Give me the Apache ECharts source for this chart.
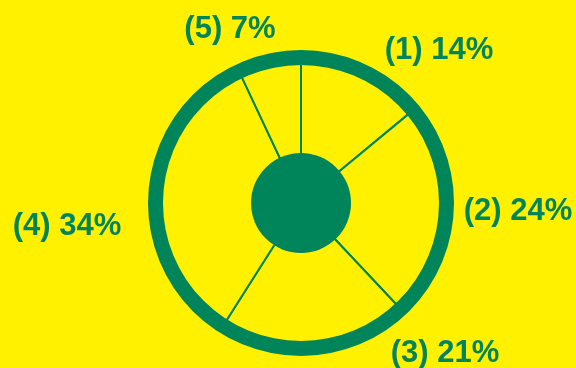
<!DOCTYPE html>
<html lang="en">

<head>
    <meta charset="UTF-8">
    <title>wheel pie</title>
    <style media="screen">
        html, body {
            margin: 0;
            padding: 0;
            background: #fff100;
        }

        #chart {
            width: 576px;
            height: 368px;
        }
    </style>
</head>

<body>
    <div id="chart"></div>

    <script src="https://cdn.jsdelivr.net/npm/echarts@6/dist/echarts.min.js"></script>
    <script>
        var categories = ['1', '2', '3', '4', '5'];
        var shares = [14, 24, 21, 34, 7];

        var labelPos = [[439, 50], [518, 211], [445, 353], [67, 226], [230, 29]]; // label centres
        var green = '#00845a';
        var yellow = '#fff100';

        (function initChart() {
            var myChart = echarts.init(document.getElementById('chart'));
            var center = [301, 203];

            var options = {
                backgroundColor: yellow,
                animation: false,
                series: [{
                        name: 'shares',
                        type: 'pie',
                        center: center,
                        radius: [0, 141],
                        startAngle: 90,
                        clockwise: true,
                        avoidLabelOverlap: false,
                        itemStyle: {
                            color: yellow,
                            borderColor: green,
                            borderWidth: 2
                        },
                        label: {
                            show: true,
                            position: 'outside',
                            formatter: '({b}) {c}%',
                            color: green,
                            fontFamily: 'Liberation Sans',
                            fontWeight: 'bold',
                            fontSize: 31
                        },
                        labelLine: {
                            show: false
                        },
                        labelLayout: function(params) {
                            var p = labelPos[params.dataIndex];
                            return {
                                x: p[0],
                                y: p[1],
                                align: 'center',
                                verticalAlign: 'middle'
                            };
                        },
                        emphasis: {
                            disabled: true
                        },
                        data: categories.map(function(c, i) {
                            return { name: c, value: shares[i] };
                        })
                    },
                    {
                        name: 'rim',
                        type: 'pie',
                        center: center,
                        radius: [138, 153],
                        silent: true,
                        label: { show: false },
                        labelLine: { show: false },
                        itemStyle: { color: green },
                        data: [1]
                    },
                    {
                        name: 'hub',
                        type: 'pie',
                        center: center,
                        radius: [0, 50],
                        silent: true,
                        label: { show: false },
                        labelLine: { show: false },
                        itemStyle: { color: green },
                        data: [1]
                    }
                ]
            };

            myChart.setOption(options, true);
        })();
    </script>
</body>

</html>
